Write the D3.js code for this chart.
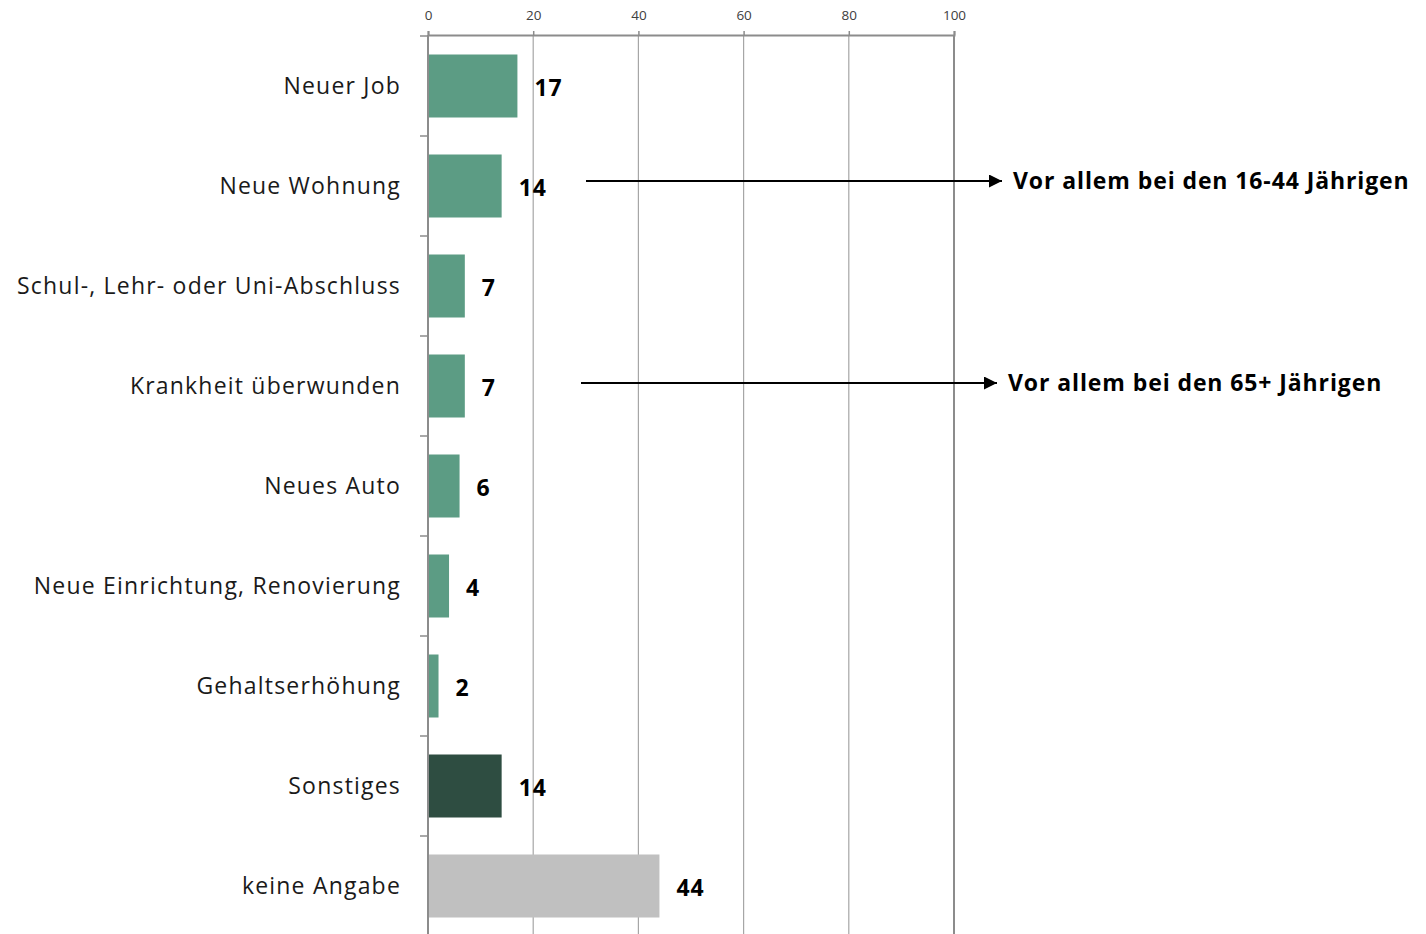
<!DOCTYPE html>
<html lang="de">
<head>
<meta charset="utf-8">
<title>Anlässe</title>
<script src="https://cdn.jsdelivr.net/npm/d3@7"></script>
<style>
  body { margin: 0; padding: 0; background: #fff; }
  svg { display: block; font-family: "Open Sans", "Noto Sans", sans-serif; }
</style>
</head>
<body>
<div id="root"></div>
<script>
  // data
  var categories = ["Neuer Job", "Neue Wohnung", "Schul-, Lehr- oder Uni-Abschluss",
    "Krankheit überwunden", "Neues Auto", "Neue Einrichtung, Renovierung",
    "Gehaltserhöhung", "Sonstiges", "keine Angabe"];
  var values = [17, 14, 7, 7, 6, 4, 2, 14, 44];
  var colors = ["#5c9c84", "#5c9c84", "#5c9c84", "#5c9c84", "#5c9c84", "#5c9c84",
    "#5c9c84", "#2e4d41", "#c0c0c0"];
  var tickValues = [0, 20, 40, 60, 80, 100];
  var notes = [
    { cat: "Neue Wohnung", text: "Vor allem bei den 16-44 Jährigen" },
    { cat: "Krankheit überwunden", text: "Vor allem bei den 65+ Jährigen" }
  ];

  var W = 1426, H = 934;
  var svg = d3.select("#root").append("svg")
    .attr("width", W).attr("height", H);

  var x = d3.scaleLinear().domain([0, 100]).range([428, 954]);
  var y = d3.scaleBand().domain(categories).range([36, 936]).paddingInner(0.37).paddingOuter(0.185);

  // gridlines
  svg.append("g").selectAll("line")
    .data(tickValues.slice(1))
    .enter().append("line")
      .attr("x1", function(d) { return x(d); })
      .attr("x2", function(d) { return x(d); })
      .attr("y1", 35).attr("y2", H)
      .attr("stroke", function(d) { return d === 100 ? "#8c8c8c" : "#a6a6a6"; })
      .attr("stroke-width", function(d) { return d === 100 ? 2 : 1.2; });

  // top axis
  var xAxis = svg.append("g")
    .attr("transform", "translate(0,35)")
    .call(d3.axisTop(x).tickValues(tickValues).tickSize(4).tickPadding(11));
  xAxis.select(".domain").attr("stroke", "#8c8c8c").attr("stroke-width", 2);
  xAxis.selectAll(".tick line").attr("stroke", "#8c8c8c").attr("stroke-width", 1.5);
  xAxis.selectAll(".tick text").attr("fill", "#404040")
    .style("font-size", "13.5px").style("font-family", "Open Sans, sans-serif");

  // bars
  svg.append("g").selectAll("rect")
    .data(values)
    .enter().append("rect")
      .attr("x", x(0))
      .attr("y", function(d, i) { return y(categories[i]); })
      .attr("width", function(d) { return x(d) - x(0); })
      .attr("height", y.bandwidth())
      .attr("fill", function(d, i) { return colors[i]; });

  // left axis with band-boundary ticks
  var step = y.step();
  svg.append("line")
    .attr("x1", x(0)).attr("x2", x(0))
    .attr("y1", 35).attr("y2", H)
    .attr("stroke", "#8c8c8c").attr("stroke-width", 2);
  svg.append("g").selectAll("line")
    .data(categories)
    .enter().append("line")
      .attr("x1", x(0) - 8).attr("x2", x(0))
      .attr("y1", function(d) { return y(d) - y.paddingOuter() * step; })
      .attr("y2", function(d) { return y(d) - y.paddingOuter() * step; })
      .attr("stroke", "#8c8c8c").attr("stroke-width", 1.5);

  // category labels
  svg.append("g").selectAll("text")
    .data(categories)
    .enter().append("text")
      .attr("x", 401)
      .attr("y", function(d) { return y(d) + y.bandwidth() / 2; })
      .attr("dy", "0.35em")
      .attr("text-anchor", "end")
      .attr("fill", "#1a1a1a")
      .style("font-size", "23px")
      .style("letter-spacing", "1.2px")
      .text(function(d) { return d; });

  // value labels
  svg.append("g").selectAll("text")
    .data(values)
    .enter().append("text")
      .attr("x", function(d) { return x(d) + 17; })
      .attr("y", function(d, i) { return y(categories[i]) + y.bandwidth() / 2 + 2; })
      .attr("dy", "0.35em")
      .attr("fill", "#000")
      .style("font-size", "23px")
      .style("font-weight", "bold")
      .style("letter-spacing", "1px")
      .text(function(d) { return d; });

  // annotations
  svg.append("defs").append("marker")
    .attr("id", "arrow")
    .attr("viewBox", "0 0 10 10")
    .attr("refX", 10).attr("refY", 5)
    .attr("markerWidth", 15).attr("markerHeight", 13)
    .attr("markerUnits", "userSpaceOnUse")
    .attr("orient", "auto")
    .append("path").attr("d", "M0,0L10,5L0,10Z").attr("fill", "#000");

  var noteStart = [586, 581], noteEnd = [1002, 997];
  notes.forEach(function(n, i) {
    var cy = y(n.cat) + y.bandwidth() / 2 - 5 + i * 2;
    svg.append("line")
      .attr("x1", noteStart[i]).attr("x2", noteEnd[i])
      .attr("y1", cy).attr("y2", cy)
      .attr("stroke", "#000").attr("stroke-width", 2)
      .attr("marker-end", "url(#arrow)");
    svg.append("text")
      .attr("x", noteEnd[i] + 11)
      .attr("y", cy)
      .attr("dy", "0.35em")
      .attr("fill", "#000")
      .style("font-size", "23px")
      .style("font-weight", "bold")
      .style("letter-spacing", "0.9px")
      .text(n.text);
  });
</script>
</body>
</html>
